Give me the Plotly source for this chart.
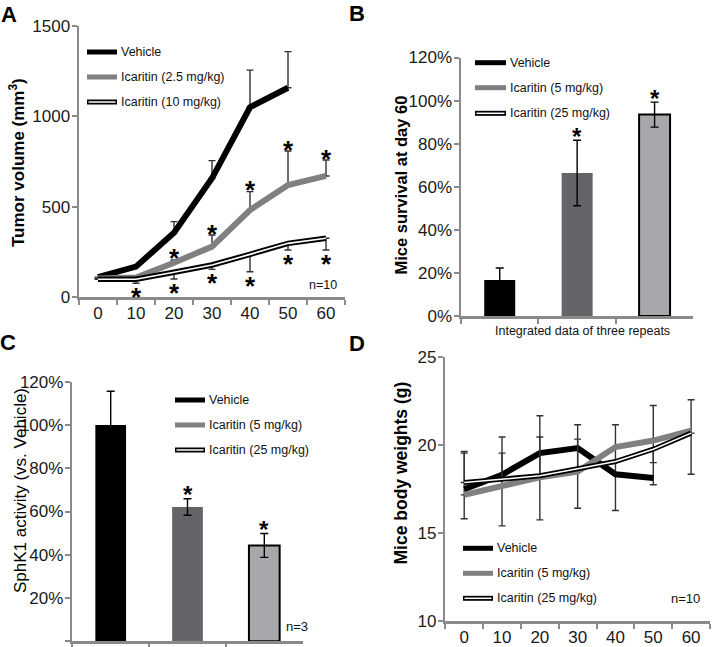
import plotly.graph_objects as go

W, H = 714, 647
FONT = "Liberation Sans, Arial, sans-serif"
AX = "#8a8a8a"
GRAY = "#808080"
ERR = "#333333"

# ---------------- Panel A: tumor volume ----------------
days = ["0", "10", "20", "30", "40", "50", "60"]
a_names = ["Vehicle", "Icaritin (2.5 mg/kg)", "Icaritin (10 mg/kg)"]
a_vehicle = [110, 168, 356, 657, 1050, 1158, None]
a_vehicle_err = [0, 0, 61, 98, 206, 200, None]
a_low = [103, 108, 190, 279, 481, 620, 670]
a_low_err = [0, 0, 15, 64, 102, 188, 88]
a_high = [98, 98, 137, 177, 236, 297, 325]
a_high_err = [0, 22, 37, 24, 96, 37, 65]
a_low_star = [0, 0, 1, 1, 1, 1, 1]
a_high_star = [0, 1, 1, 1, 1, 1, 1]
a_yticks = [0, 500, 1000, 1500]

# ---------------- Panel B: survival ----------------
groups = ["Vehicle", "Icaritin (5 mg/kg)", "Icaritin (25 mg/kg)"]
b_survival = [16.7, 66.4, 93.5]
b_err = [5.6, 15.2, 5.8]
b_star = [0, 1, 1]

# ---------------- Panel C: SphK1 activity ----------------
c_activity = [100, 62.1, 44.3]
c_err = [15.6, 3.8, 5.5]
c_star = [0, 1, 1]
pct_ticks = [0, 20, 40, 60, 80, 100, 120]
pct_labels = ["0%", "20%", "40%", "60%", "80%", "100%", "120%"]

# ---------------- Panel D: body weights ----------------
d_vehicle = [17.48, 18.30, 19.53, 19.81, 18.33, 18.11, None]
d_vehicle_up = [2.14, 2.14, 2.12, 1.33, 2.81, 4.12, None]
d_vehicle_dn = [1.68, 2.90, 3.79, 3.41, 2.06, 0.38, None]
d_low = [17.16, 17.63, 18.16, 18.48, 19.87, 20.24, 20.81]
d_low_up = [0, 0, 0, 0, 0, 0, 1.75]
d_low_dn = [0, 0, 0, 0, 0, 0, 2.48]
d_high = [17.86, 18.05, 18.24, 18.64, 19.05, 19.75, 20.66]
d_high_up = [1.67, 1.48, 2.20, 1.68, 0, 0, 0]
d_high_dn = [0, 0, 0, 0, 0, 0.76, 0]
d_yticks = [10, 15, 20, 25]

bar_colors = ["#000000", "#646569", "#a7a8ac"]
bar_lines = [0, 0, 2]


def PX(x):
    return x / W


def PY(y):
    return 1 - y / H


def err(up, dn, width=3.5):
    return dict(type="data", symmetric=False, array=up, arrayminus=dn,
                color=ERR, thickness=1.4, width=width)


fig = go.Figure()

# Panel A lines
fig.add_trace(go.Scatter(x=days, y=a_vehicle, mode="lines", xaxis="x", yaxis="y",
                         line=dict(color="black", width=6),
                         error_y=err(a_vehicle_err, [0] * 7)))
fig.add_trace(go.Scatter(x=days, y=a_low, mode="lines", xaxis="x", yaxis="y",
                         line=dict(color=GRAY, width=6),
                         error_y=err(a_low_err, [0] * 7)))
fig.add_trace(go.Scatter(x=days, y=a_high, mode="lines", xaxis="x", yaxis="y",
                         line=dict(color="black", width=5.5),
                         error_y=err([0] * 7, a_high_err)))
fig.add_trace(go.Scatter(x=days, y=a_high, mode="lines", xaxis="x", yaxis="y",
                         line=dict(color="white", width=1.6), hoverinfo="skip"))

# Panel B bars
fig.add_trace(go.Bar(x=groups, y=b_survival, xaxis="x2", yaxis="y2", width=0.4,
                     marker=dict(color=bar_colors, line=dict(color="black", width=bar_lines)),
                     error_y=dict(type="data", array=b_err, color="black",
                                  thickness=1.4, width=4)))

# Panel C bars
fig.add_trace(go.Bar(x=groups, y=c_activity, xaxis="x3", yaxis="y3", width=0.4,
                     marker=dict(color=bar_colors, line=dict(color="black", width=bar_lines)),
                     error_y=dict(type="data", array=c_err, color="black",
                                  thickness=1.4, width=4)))

# Panel D lines
fig.add_trace(go.Scatter(x=days, y=d_vehicle, mode="lines", xaxis="x4", yaxis="y4",
                         line=dict(color="black", width=6),
                         error_y=err(d_vehicle_up, d_vehicle_dn)))
fig.add_trace(go.Scatter(x=days, y=d_low, mode="lines", xaxis="x4", yaxis="y4",
                         line=dict(color=GRAY, width=6),
                         error_y=err(d_low_up, d_low_dn)))
fig.add_trace(go.Scatter(x=days, y=d_high, mode="lines", xaxis="x4", yaxis="y4",
                         line=dict(color="black", width=5),
                         error_y=err(d_high_up, d_high_dn)))
fig.add_trace(go.Scatter(x=days, y=d_high, mode="lines", xaxis="x4", yaxis="y4",
                         line=dict(color="white", width=1.5), hoverinfo="skip"))


def xax(dom, n, anchor, labels=True):
    return dict(domain=dom, anchor=anchor, type="category", range=[-0.5, n - 0.5],
                tickson="boundaries", ticks="outside", ticklen=5, tickwidth=2,
                tickcolor=AX, showline=True, linecolor=AX, linewidth=2.5,
                showgrid=False, zeroline=False, showticklabels=labels, automargin=False,
                ticklabelstandoff=-1,
                tickfont=dict(family=FONT, size=17, color="#1a1a1a"))


def yax(dom, rng, tv, anchor, tt=None):
    d = dict(domain=dom, anchor=anchor, range=rng, tickmode="array", tickvals=tv,
             ticks="outside", ticklen=5, tickwidth=2, tickcolor=AX, automargin=False,
             showline=True, linecolor=AX, linewidth=2.5, showgrid=False,
             ticklabelstandoff=-2,
             zeroline=False, tickfont=dict(family=FONT, size=17, color="#1a1a1a"))
    if tt is not None:
        d["ticktext"] = tt
    return d


layout = dict(
    width=W, height=H, margin=dict(l=0, r=0, t=0, b=0, pad=0), autosize=False,
    paper_bgcolor="white", plot_bgcolor="white", showlegend=False,
    font=dict(family=FONT, color="black"),
    xaxis=xax([PX(79), PX(345)], 7, "y"),
    yaxis=yax([PY(297), PY(26)], [0, 1500], a_yticks, "x"),
    xaxis2=xax([PX(461), PX(693.3)], 3, "y2", labels=False),
    yaxis2=yax([PY(316), PY(57.5)], [0, 120], pct_ticks, "x2", pct_labels),
    xaxis3=xax([PX(72.3), PX(302.7)], 3, "y3", labels=False),
    yaxis3=yax([PY(641.3), PY(381.7)], [0, 120], pct_ticks, "x3", pct_labels),
    xaxis4=xax([PX(445.3), PX(710)], 7, "y4"),
    yaxis4=yax([PY(621), PY(356.7)], [10, 25], d_yticks, "x4"),
)

ann = []
shapes = []


def text(x, y, t, size=12.5, anchor="left", bold=False, angle=0, color="#111"):
    ann.append(dict(x=PX(x), y=PY(y), xref="paper", yref="paper", showarrow=False,
                    text=("<b>%s</b>" % t) if bold else t, xanchor=anchor, yanchor="middle",
                    textangle=angle, font=dict(family=FONT, size=size, color=color)))


# panel letters
for letter, (lx, ly) in zip("ABCD", [(8.5, 14.5), (357, 13.5), (7.5, 342.5), (357, 343.5)]):
    text(lx, ly, letter, size=22, anchor="center", bold=True, color="black")

# axis titles
text(17, 163, "Tumor volume (mm<sup>3</sup>)", size=17, anchor="center", bold=True, angle=-90, color="black")
text(400.5, 185, "Mice survival at day 60", size=16.5, anchor="center", bold=True, angle=-90, color="black")
text(20, 491, "SphK1 activity (vs. Vehicle)", size=17, anchor="center", angle=-90, color="black")
text(400, 473.5, "Mice body weights (g)", size=17.5, anchor="center", bold=True, angle=-90, color="black")
text(582.5, 331, "Integrated data of three repeats", size=12.5, anchor="center")

# n labels
text(338.5, 285, "n=10", size=12.5, anchor="right")
text(310, 626.7, "n=3", size=13, anchor="right")
text(701.5, 598.3, "n=10", size=13, anchor="right")


def legend(x0, x1, ys, names):
    styles = [("black", None), (GRAY, None), ("black", "white")]
    for y, name, (c, inner) in zip(ys, names, styles):
        shapes.append(dict(type="line", xref="paper", yref="paper", x0=PX(x0), x1=PX(x1),
                           y0=PY(y), y1=PY(y), line=dict(color=c, width=5)))
        if inner:
            shapes.append(dict(type="line", xref="paper", yref="paper", x0=PX(x0 + 1.5),
                               x1=PX(x1 - 1.5), y0=PY(y), y1=PY(y),
                               line=dict(color=inner, width=1.5)))
        text(x1 + 1.5, y, name, size=12.5)


legend(87, 117, [52, 77, 102], a_names)
legend(475, 506, [62.7, 87.7, 113.3], groups)
legend(175, 205, [400, 425, 450], groups)
legend(463, 493, [548.3, 573.3, 598.3], groups)


def star(xref, yref, x, y, shift, size):
    ann.append(dict(x=x, y=y, xref=xref, yref=yref, showarrow=False, text="<b>*</b>",
                    yanchor="middle", xanchor="center", yshift=shift,
                    font=dict(family=FONT, size=size, color="black")))


# category positions are given as category indices
for i in range(len(days)):
    if a_low_star[i]:
        star("x", "y", i, a_low[i] + a_low_err[i], 1.5, 26)
    if a_high_star[i]:
        star("x", "y", i, a_high[i] - a_high_err[i], -14, 26)
for i in range(len(groups)):
    if b_star[i]:
        star("x2", "y2", i, b_survival[i] + b_err[i], 4, 24)
    if c_star[i]:
        star("x3", "y3", i, c_activity[i] + c_err[i], 4.5, 24)

layout["annotations"] = ann
layout["shapes"] = shapes
fig.update_layout(**layout)
fig.write_html("out.html", config={"displayModeBar": False, "staticPlot": True},
               post_script="document.body.style.margin='0px';document.body.style.padding='0px';")
